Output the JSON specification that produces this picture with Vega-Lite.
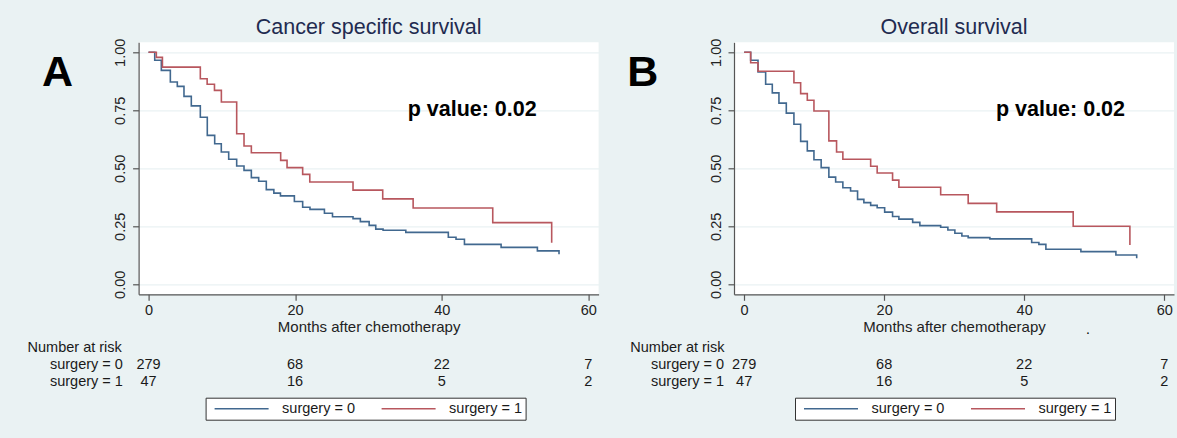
{
  "$schema": "https://vega.github.io/schema/vega-lite/v6.json",
  "autosize": {"type": "none"},
  "padding": {"left": 138.6, "top": 42.3, "right": 1038.4, "bottom": 395.7},
  "background": "#eaf2f3",
  "columns": 2,
  "spacing": {"row": 45.2, "column": 135.4},
  "bounds": "flush",
  "resolve": {"scale": {"color": "independent"}, "legend": {"color": "independent"}},
  "datasets": {
    "kmA": [
      {"t": 0, "s": 1, "g": "surgery = 0"},
      {"t": 0.85, "s": 0.966, "g": "surgery = 0"},
      {"t": 1.75, "s": 0.922, "g": "surgery = 0"},
      {"t": 2.98, "s": 0.872, "g": "surgery = 0"},
      {"t": 3.93, "s": 0.853, "g": "surgery = 0"},
      {"t": 4.84, "s": 0.81, "g": "surgery = 0"},
      {"t": 5.84, "s": 0.769, "g": "surgery = 0"},
      {"t": 7.07, "s": 0.72, "g": "surgery = 0"},
      {"t": 8.02, "s": 0.642, "g": "surgery = 0"},
      {"t": 9.03, "s": 0.606, "g": "surgery = 0"},
      {"t": 9.93, "s": 0.57, "g": "surgery = 0"},
      {"t": 10.94, "s": 0.539, "g": "surgery = 0"},
      {"t": 12.03, "s": 0.51, "g": "surgery = 0"},
      {"t": 13.03, "s": 0.491, "g": "surgery = 0"},
      {"t": 14.03, "s": 0.46, "g": "surgery = 0"},
      {"t": 15.03, "s": 0.444, "g": "surgery = 0"},
      {"t": 16.07, "s": 0.408, "g": "surgery = 0"},
      {"t": 17.1, "s": 0.393, "g": "surgery = 0"},
      {"t": 18.0, "s": 0.381, "g": "surgery = 0"},
      {"t": 19.9, "s": 0.357, "g": "surgery = 0"},
      {"t": 21.03, "s": 0.332, "g": "surgery = 0"},
      {"t": 22.03, "s": 0.323, "g": "surgery = 0"},
      {"t": 24.0, "s": 0.306, "g": "surgery = 0"},
      {"t": 25.1, "s": 0.291, "g": "surgery = 0"},
      {"t": 27.9, "s": 0.283, "g": "surgery = 0"},
      {"t": 28.9, "s": 0.27, "g": "surgery = 0"},
      {"t": 30.1, "s": 0.254, "g": "surgery = 0"},
      {"t": 31.0, "s": 0.238, "g": "surgery = 0"},
      {"t": 32.0, "s": 0.233, "g": "surgery = 0"},
      {"t": 35.1, "s": 0.224, "g": "surgery = 0"},
      {"t": 40.9, "s": 0.203, "g": "surgery = 0"},
      {"t": 41.95, "s": 0.194, "g": "surgery = 0"},
      {"t": 43.1, "s": 0.172, "g": "surgery = 0"},
      {"t": 48.1, "s": 0.159, "g": "surgery = 0"},
      {"t": 53.05, "s": 0.144, "g": "surgery = 0"},
      {"t": 56.0, "s": 0.129, "g": "surgery = 0"},
      {"t": 0, "s": 1, "g": "surgery = 1"},
      {"t": 1.07, "s": 0.978, "g": "surgery = 1"},
      {"t": 1.9, "s": 0.936, "g": "surgery = 1"},
      {"t": 7.07, "s": 0.886, "g": "surgery = 1"},
      {"t": 8.0, "s": 0.862, "g": "surgery = 1"},
      {"t": 9.0, "s": 0.836, "g": "surgery = 1"},
      {"t": 9.94, "s": 0.786, "g": "surgery = 1"},
      {"t": 12.03, "s": 0.649, "g": "surgery = 1"},
      {"t": 13.03, "s": 0.596, "g": "surgery = 1"},
      {"t": 14.03, "s": 0.567, "g": "surgery = 1"},
      {"t": 18.03, "s": 0.534, "g": "surgery = 1"},
      {"t": 18.9, "s": 0.503, "g": "surgery = 1"},
      {"t": 21.03, "s": 0.474, "g": "surgery = 1"},
      {"t": 22.0, "s": 0.441, "g": "surgery = 1"},
      {"t": 27.9, "s": 0.406, "g": "surgery = 1"},
      {"t": 31.95, "s": 0.368, "g": "surgery = 1"},
      {"t": 36.1, "s": 0.329, "g": "surgery = 1"},
      {"t": 46.96, "s": 0.266, "g": "surgery = 1"},
      {"t": 55.0, "s": 0.179, "g": "surgery = 1"}
    ],
    "kmB": [
      {"t": 0, "s": 1, "g": "surgery = 0"},
      {"t": 0.93, "s": 0.966, "g": "surgery = 0"},
      {"t": 1.98, "s": 0.915, "g": "surgery = 0"},
      {"t": 3.07, "s": 0.862, "g": "surgery = 0"},
      {"t": 4.02, "s": 0.825, "g": "surgery = 0"},
      {"t": 4.97, "s": 0.781, "g": "surgery = 0"},
      {"t": 6.02, "s": 0.738, "g": "surgery = 0"},
      {"t": 7.11, "s": 0.69, "g": "surgery = 0"},
      {"t": 8.07, "s": 0.616, "g": "surgery = 0"},
      {"t": 9.02, "s": 0.575, "g": "surgery = 0"},
      {"t": 9.97, "s": 0.537, "g": "surgery = 0"},
      {"t": 11.0, "s": 0.503, "g": "surgery = 0"},
      {"t": 12.1, "s": 0.462, "g": "surgery = 0"},
      {"t": 13.07, "s": 0.441, "g": "surgery = 0"},
      {"t": 14.1, "s": 0.416, "g": "surgery = 0"},
      {"t": 15.2, "s": 0.402, "g": "surgery = 0"},
      {"t": 16.2, "s": 0.366, "g": "surgery = 0"},
      {"t": 17.1, "s": 0.352, "g": "surgery = 0"},
      {"t": 18.07, "s": 0.34, "g": "surgery = 0"},
      {"t": 19.0, "s": 0.33, "g": "surgery = 0"},
      {"t": 20.07, "s": 0.311, "g": "surgery = 0"},
      {"t": 21.2, "s": 0.292, "g": "surgery = 0"},
      {"t": 22.1, "s": 0.281, "g": "surgery = 0"},
      {"t": 24.07, "s": 0.267, "g": "surgery = 0"},
      {"t": 25.1, "s": 0.253, "g": "surgery = 0"},
      {"t": 28.07, "s": 0.246, "g": "surgery = 0"},
      {"t": 29.1, "s": 0.234, "g": "surgery = 0"},
      {"t": 30.1, "s": 0.22, "g": "surgery = 0"},
      {"t": 31.1, "s": 0.208, "g": "surgery = 0"},
      {"t": 32.0, "s": 0.201, "g": "surgery = 0"},
      {"t": 35.1, "s": 0.196, "g": "surgery = 0"},
      {"t": 41.07, "s": 0.18, "g": "surgery = 0"},
      {"t": 42.1, "s": 0.172, "g": "surgery = 0"},
      {"t": 43.1, "s": 0.151, "g": "surgery = 0"},
      {"t": 48.1, "s": 0.141, "g": "surgery = 0"},
      {"t": 53.1, "s": 0.126, "g": "surgery = 0"},
      {"t": 56.07, "s": 0.112, "g": "surgery = 0"},
      {"t": 0, "s": 1, "g": "surgery = 1"},
      {"t": 0.93, "s": 0.955, "g": "surgery = 1"},
      {"t": 1.98, "s": 0.918, "g": "surgery = 1"},
      {"t": 7.11, "s": 0.869, "g": "surgery = 1"},
      {"t": 8.07, "s": 0.822, "g": "surgery = 1"},
      {"t": 9.02, "s": 0.793, "g": "surgery = 1"},
      {"t": 9.97, "s": 0.747, "g": "surgery = 1"},
      {"t": 12.1, "s": 0.618, "g": "surgery = 1"},
      {"t": 13.2, "s": 0.57, "g": "surgery = 1"},
      {"t": 14.1, "s": 0.539, "g": "surgery = 1"},
      {"t": 18.07, "s": 0.509, "g": "surgery = 1"},
      {"t": 19.0, "s": 0.48, "g": "surgery = 1"},
      {"t": 21.2, "s": 0.449, "g": "surgery = 1"},
      {"t": 22.1, "s": 0.418, "g": "surgery = 1"},
      {"t": 28.07, "s": 0.386, "g": "surgery = 1"},
      {"t": 32.0, "s": 0.349, "g": "surgery = 1"},
      {"t": 36.07, "s": 0.312, "g": "surgery = 1"},
      {"t": 47.0, "s": 0.25, "g": "surgery = 1"},
      {"t": 55.1, "s": 0.169, "g": "surgery = 1"}
    ],
    "riskA": [
      {"t": 0, "g": "surgery = 0", "n": 279},
      {"t": 20, "g": "surgery = 0", "n": 68},
      {"t": 40, "g": "surgery = 0", "n": 22},
      {"t": 60, "g": "surgery = 0", "n": 7},
      {"t": 0, "g": "surgery = 1", "n": 47},
      {"t": 20, "g": "surgery = 1", "n": 16},
      {"t": 40, "g": "surgery = 1", "n": 5},
      {"t": 60, "g": "surgery = 1", "n": 2}
    ],
    "riskB": [
      {"t": 0, "g": "surgery = 0", "n": 279},
      {"t": 20, "g": "surgery = 0", "n": 68},
      {"t": 40, "g": "surgery = 0", "n": 22},
      {"t": 60, "g": "surgery = 0", "n": 7},
      {"t": 0, "g": "surgery = 1", "n": 47},
      {"t": 20, "g": "surgery = 1", "n": 16},
      {"t": 40, "g": "surgery = 1", "n": 5},
      {"t": 60, "g": "surgery = 1", "n": 2}
    ],
    "rowLabels": [
      {"g": "surgery = 0"},
      {"g": "surgery = 1"}
    ],
    "header": [
      {"g": "Number at risk"}
    ],
    "letterA": [{"txt": "A"}],
    "letterB": [{"txt": "B"}],
    "pval": [{"txt": "p value: 0.02"}],
    "dot": [{"txt": "."}]
  },
  "concat": [
    {
      "width": 460,
      "height": 252,
      "view": {"fill": "white", "stroke": null},
      "title": {"text": "Cancer specific survival", "frame": "group", "anchor": "middle", "baseline": "alphabetic", "offset": 8, "dy": 25.5, "fontSize": 21.5, "font": "Liberation Sans", "fontWeight": "normal", "color": "#1f2b50"},
      "layer": [
        {
          "data": {"name": "kmA"},
          "mark": {"type": "line", "interpolate": "step-after", "strokeWidth": 1.6},
          "encoding": {
            "x": {"field": "t", "type": "quantitative", "scale": {"domain": [-1.35, 61.4], "nice": false, "zero": false}, "axis": {"values": [0, 20, 40, 60], "title": "Months after chemotherapy", "grid": false}},
            "y": {"field": "s", "type": "quantitative", "scale": {"domain": [-0.0431, 1.0431], "nice": false, "zero": false}, "axis": {"values": [0, 0.25, 0.5, 0.75, 1], "format": ".2f", "title": null, "grid": true}},
            "color": {"field": "g", "type": "nominal", "scale": {"domain": ["surgery = 0", "surgery = 1"], "range": ["#41688f", "#b8575e"]},
              "legend": {"orient": "none", "legendX": 67, "legendY": 355.4, "direction": "horizontal", "title": null, "symbolType": "stroke", "symbolSize": 2916, "symbolStrokeWidth": 1.5, "symbolOffset": 5, "clipHeight": 16, "labelFontSize": 14.5, "labelFont": "Liberation Sans", "labelColor": "#1a1a1a", "labelOffset": 12.5, "columnPadding": 20, "padding": 3, "fillColor": "white", "strokeColor": "#333333", "labelLimit": 0}}
          }
        },
        {
          "data": {"name": "letterA"},
          "mark": {"type": "text", "align": "left", "baseline": "alphabetic", "fontSize": 43, "fontWeight": "bold", "font": "Liberation Sans", "color": "black"},
          "encoding": {"x": {"datum": -14.53, "type": "quantitative"}, "y": {"datum": 0.855, "type": "quantitative"}, "text": {"field": "txt"}}
        },
        {
          "data": {"name": "pval"},
          "mark": {"type": "text", "align": "left", "baseline": "alphabetic", "fontSize": 21.5, "fontWeight": "bold", "font": "Liberation Sans", "color": "black"},
          "encoding": {"x": {"datum": 35.35, "type": "quantitative"}, "y": {"datum": 0.7233, "type": "quantitative"}, "text": {"field": "txt"}}
        }
      ]
    },
    {
      "width": 440,
      "height": 252,
      "view": {"fill": "white", "stroke": null},
      "title": {"text": "Overall survival", "frame": "group", "anchor": "middle", "baseline": "alphabetic", "offset": 8, "dy": 25.5, "fontSize": 21.5, "font": "Liberation Sans", "fontWeight": "normal", "color": "#1f2b50"},
      "layer": [
        {
          "data": {"name": "kmB"},
          "mark": {"type": "line", "interpolate": "step-after", "strokeWidth": 1.6},
          "encoding": {
            "x": {"field": "t", "type": "quantitative", "scale": {"domain": [-1.45, 61.4], "nice": false, "zero": false}, "axis": {"values": [0, 20, 40, 60], "title": "Months after chemotherapy", "grid": false}},
            "y": {"field": "s", "type": "quantitative", "scale": {"domain": [-0.0431, 1.0431], "nice": false, "zero": false}, "axis": {"values": [0, 0.25, 0.5, 0.75, 1], "format": ".2f", "title": null, "grid": true}},
            "color": {"field": "g", "type": "nominal", "scale": {"domain": ["surgery = 0", "surgery = 1"], "range": ["#41688f", "#b8575e"]},
              "legend": {"orient": "none", "legendX": 61, "legendY": 355.4, "direction": "horizontal", "title": null, "symbolType": "stroke", "symbolSize": 2916, "symbolStrokeWidth": 1.5, "symbolOffset": 5, "clipHeight": 16, "labelFontSize": 14.5, "labelFont": "Liberation Sans", "labelColor": "#1a1a1a", "labelOffset": 12.5, "columnPadding": 20, "padding": 3, "fillColor": "white", "strokeColor": "#333333", "labelLimit": 0}}
          }
        },
        {
          "data": {"name": "letterB"},
          "mark": {"type": "text", "align": "left", "baseline": "alphabetic", "fontSize": 43, "fontWeight": "bold", "font": "Liberation Sans", "color": "black"},
          "encoding": {"x": {"datum": -16.7, "type": "quantitative"}, "y": {"datum": 0.855, "type": "quantitative"}, "text": {"field": "txt"}}
        },
        {
          "data": {"name": "pval"},
          "mark": {"type": "text", "align": "left", "baseline": "alphabetic", "fontSize": 21.5, "fontWeight": "bold", "font": "Liberation Sans", "color": "black"},
          "encoding": {"x": {"datum": 35.97, "type": "quantitative"}, "y": {"datum": 0.7233, "type": "quantitative"}, "text": {"field": "txt"}}
        },
        {
          "data": {"name": "dot"},
          "mark": {"type": "text", "align": "center", "baseline": "alphabetic", "fontSize": 14, "font": "Liberation Sans", "color": "black"},
          "encoding": {"x": {"datum": 49.1, "type": "quantitative"}, "y": {"datum": -0.214, "type": "quantitative"}, "text": {"field": "txt"}}
        }
      ]
    },
    {
      "width": 460,
      "height": 51,
      "view": {"fill": null, "stroke": null},
      "layer": [
        {
          "data": {"name": "riskA"},
          "mark": {"type": "text", "fontSize": 14.5, "font": "Liberation Sans", "color": "#1a1a1a", "baseline": "middle", "align": "center"},
          "encoding": {
            "x": {"field": "t", "type": "quantitative", "scale": {"domain": [-1.35, 61.4], "nice": false, "zero": false}, "axis": null},
            "y": {"field": "g", "type": "nominal", "scale": {"type": "point", "domain": ["Number at risk", "surgery = 0", "surgery = 1"], "padding": 0.5}, "axis": null},
            "text": {"field": "n"}
          }
        },
        {
          "data": {"name": "rowLabels"},
          "mark": {"type": "text", "fontSize": 14.5, "font": "Liberation Sans", "color": "#1a1a1a", "baseline": "middle", "align": "left"},
          "encoding": {
            "x": {"datum": -13.44, "type": "quantitative"},
            "y": {"field": "g", "type": "nominal"},
            "text": {"field": "g"}
          }
        },
        {
          "data": {"name": "header"},
          "mark": {"type": "text", "fontSize": 14.5, "font": "Liberation Sans", "color": "#1a1a1a", "baseline": "middle", "align": "left"},
          "encoding": {
            "x": {"datum": -16.5, "type": "quantitative"},
            "y": {"field": "g", "type": "nominal"},
            "text": {"field": "g"}
          }
        }
      ]
    },
    {
      "width": 440,
      "height": 51,
      "view": {"fill": null, "stroke": null},
      "layer": [
        {
          "data": {"name": "riskB"},
          "mark": {"type": "text", "fontSize": 14.5, "font": "Liberation Sans", "color": "#1a1a1a", "baseline": "middle", "align": "center"},
          "encoding": {
            "x": {"field": "t", "type": "quantitative", "scale": {"domain": [-1.45, 61.4], "nice": false, "zero": false}, "axis": null},
            "y": {"field": "g", "type": "nominal", "scale": {"type": "point", "domain": ["Number at risk", "surgery = 0", "surgery = 1"], "padding": 0.5}, "axis": null},
            "text": {"field": "n"}
          }
        },
        {
          "data": {"name": "rowLabels"},
          "mark": {"type": "text", "fontSize": 14.5, "font": "Liberation Sans", "color": "#1a1a1a", "baseline": "middle", "align": "left"},
          "encoding": {
            "x": {"datum": -13.3, "type": "quantitative"},
            "y": {"field": "g", "type": "nominal"},
            "text": {"field": "g"}
          }
        },
        {
          "data": {"name": "header"},
          "mark": {"type": "text", "fontSize": 14.5, "font": "Liberation Sans", "color": "#1a1a1a", "baseline": "middle", "align": "left"},
          "encoding": {
            "x": {"datum": -16.26, "type": "quantitative"},
            "y": {"field": "g", "type": "nominal"},
            "text": {"field": "g"}
          }
        }
      ]
    }
  ],
  "config": {
    "font": "Liberation Sans",
    "view": {"stroke": null},
    "axis": {"domainColor": "#555555", "domainWidth": 1.2, "tickColor": "#555555", "tickWidth": 1.2, "tickSize": 6, "labelFont": "Liberation Sans", "labelFontSize": 14.5, "labelColor": "#222222", "labelFlush": false, "titleFont": "Liberation Sans", "titleFontSize": 15, "titleFontWeight": "normal", "titleColor": "#222222", "gridColor": "#eaf2f3", "gridWidth": 1.2},
    "axisY": {"labelAngle": 270, "labelAlign": "center", "labelBaseline": "alphabetic", "labelPadding": 8},
    "axisX": {"labelAngle": 0, "labelPadding": 3, "titlePadding": 3}
  }
}
